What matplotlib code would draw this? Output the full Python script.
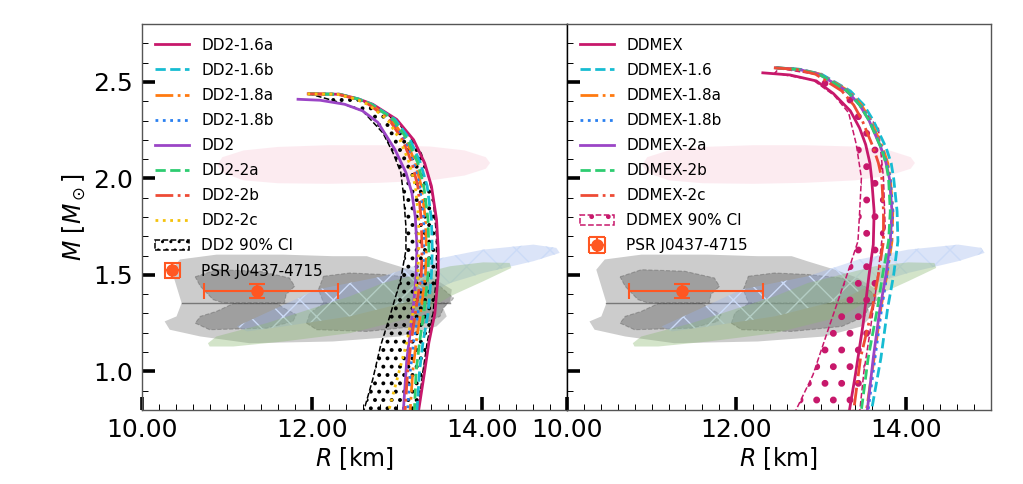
import matplotlib
matplotlib.use("Agg")
import matplotlib.pyplot as plt
from matplotlib.patches import Polygon
from matplotlib.ticker import MultipleLocator, FormatStrFormatter

# ---------------- data ----------------
# Left panel (DD2 family): M values and R values per curve
M_left = [2.438, 2.436, 2.412, 2.384, 2.306, 2.20, 2.08, 1.96, 1.787, 1.63, 1.50, 1.30, 1.15, 1.00, 0.80]
R_dd2_16a = [11.96, 12.33, 12.55, 12.72, 13.00, 13.20, 13.33, 13.41, 13.47, 13.49, 13.49, 13.45, 13.38, 13.33, 13.26]
R_dd2_16b = [11.97, 12.33, 12.55, 12.71, 12.98, 13.16, 13.28, 13.36, 13.41, 13.42, 13.41, 13.37, 13.31, 13.27, 13.24]
R_dd2_18a = [11.96, 12.32, 12.53, 12.69, 12.94, 13.11, 13.22, 13.29, 13.34, 13.35, 13.34, 13.28, 13.23, 13.19, 13.16]
R_dd2_18b = [11.96, 12.31, 12.52, 12.68, 12.93, 13.09, 13.20, 13.27, 13.32, 13.32, 13.31, 13.25, 13.20, 13.16, 13.13]
R_dd2_2a = [11.97, 12.32, 12.54, 12.70, 12.96, 13.13, 13.25, 13.32, 13.37, 13.38, 13.37, 13.32, 13.27, 13.23, 13.21]
R_dd2_2b = [11.95, 12.31, 12.52, 12.67, 12.91, 13.07, 13.18, 13.25, 13.29, 13.30, 13.29, 13.22, 13.17, 13.13, 13.10]
R_dd2_2c = [11.95, 12.30, 12.51, 12.66, 12.89, 13.04, 13.15, 13.22, 13.26, 13.26, 13.25, 13.19, 13.12, 13.03, 12.91]
M_dd2 = [2.41, 2.405, 2.384, 2.35, 2.29, 2.15, 2.03, 1.925, 1.80, 1.65, 1.50, 1.35, 1.20, 1.06, 0.80]
R_dd2 = [11.84, 12.10, 12.39, 12.60, 12.78, 12.98, 13.11, 13.18, 13.22, 13.24, 13.23, 13.20, 13.16, 13.12, 13.08]

# DD2 90% CI band
ci_left_M_lo = [2.44, 2.40, 2.35, 2.235, 2.13, 2.03, 1.92, 1.75, 1.63, 1.48, 1.30, 1.13, 0.96, 0.79]
ci_left_R_lo = [11.96, 12.28, 12.60, 12.84, 12.96, 13.05, 13.08, 13.11, 13.11, 13.05, 12.93, 12.81, 12.72, 12.61]
ci_left_M_hi = [0.79, 1.00, 1.15, 1.30, 1.50, 1.70, 1.90, 2.02, 2.13, 2.22, 2.30, 2.36, 2.41, 2.435, 2.44]
ci_left_R_hi = [13.25, 13.31, 13.36, 13.43, 13.47, 13.47, 13.43, 13.37, 13.29, 13.15, 12.99, 12.80, 12.56, 12.30, 11.96]

# Right panel (DDMEX family)
M_ddmex = [2.547, 2.536, 2.505, 2.44, 2.35, 2.26, 2.176, 2.08, 2.003, 1.83, 1.657, 1.50, 1.244, 0.984, 0.80]
R_ddmex = [12.31, 12.63, 12.94, 13.14, 13.34, 13.45, 13.52, 13.57, 13.59, 13.62, 13.61, 13.56, 13.49, 13.40, 13.33]
M_right = [2.573, 2.565, 2.54, 2.453, 2.38, 2.30, 2.16, 2.08, 2.00, 1.83, 1.675, 1.50, 1.33, 1.07, 0.80]
R_ddmex_16 = [12.48, 12.75, 13.00, 13.34, 13.50, 13.61, 13.76, 13.82, 13.85, 13.89, 13.90, 13.85, 13.78, 13.70, 13.59]
R_ddmex_18a = [12.47, 12.74, 12.99, 13.32, 13.47, 13.58, 13.72, 13.78, 13.81, 13.84, 13.83, 13.77, 13.70, 13.62, 13.53]
R_ddmex_18b = [12.47, 12.74, 12.98, 13.31, 13.46, 13.57, 13.71, 13.77, 13.81, 13.84, 13.82, 13.77, 13.71, 13.63, 13.55]
R_ddmex_2a = [12.46, 12.73, 12.97, 13.30, 13.45, 13.56, 13.70, 13.76, 13.80, 13.83, 13.81, 13.76, 13.69, 13.61, 13.54]
R_ddmex_2b = [12.46, 12.73, 12.97, 13.30, 13.45, 13.56, 13.70, 13.76, 13.79, 13.81, 13.79, 13.72, 13.66, 13.55, 13.47]
R_ddmex_2c = [12.44, 12.70, 12.93, 13.24, 13.38, 13.48, 13.61, 13.67, 13.71, 13.73, 13.73, 13.67, 13.60, 13.46, 13.38]

# DDMEX 90% CI band
ci_right_M_lo = [2.545, 2.51, 2.43, 2.34, 2.176, 2.003, 1.83, 1.675, 1.50, 1.244, 0.982, 0.79]
ci_right_R_lo = [12.45, 12.90, 13.15, 13.32, 13.41, 13.47, 13.45, 13.43, 13.30, 13.10, 12.90, 12.69]
ci_right_M_hi = [0.79, 1.00, 1.20, 1.45, 1.675, 1.744, 2.003, 2.26, 2.43, 2.535, 2.57]
ci_right_R_hi = [13.45, 13.50, 13.57, 13.65, 13.71, 13.75, 13.73, 13.67, 13.35, 13.00, 12.50]

# PSR J0437-4715
psr_R, psr_R_lo, psr_R_hi = 11.36, 0.63, 0.95
psr_M, psr_M_err = 1.418, 0.037

# Background constraint regions (R, M outlines)
gray_R = [10.47, 10.35, 10.45, 10.88, 11.67, 12.25, 12.65, 12.84, 13.16, 13.43, 13.65, 13.63, 13.55,
          13.59, 13.47, 13.04, 12.25, 11.27, 10.69, 10.33, 10.27, 10.41]
gray_M = [1.354, 1.527, 1.58, 1.605, 1.605, 1.597, 1.597, 1.57, 1.527, 1.484, 1.424, 1.363, 1.328,
          1.285, 1.233, 1.181, 1.155, 1.146, 1.181, 1.216, 1.259, 1.285]
dark_ul_R = [10.63, 10.88, 11.39, 11.74, 11.80, 11.70, 11.68, 10.95, 10.84, 10.69]
dark_ul_M = [1.49, 1.527, 1.519, 1.484, 1.441, 1.398, 1.356, 1.356, 1.372, 1.441]
dark_ur_R = [12.14, 12.45, 12.84, 13.23, 13.51, 13.67, 13.63, 12.14, 12.08]
dark_ur_M = [1.493, 1.51, 1.502, 1.484, 1.441, 1.38, 1.356, 1.356, 1.424]
dark_ll_R = [10.63, 10.80, 11.47, 11.78, 11.82, 11.67, 11.60, 11.08, 10.88, 10.69]
dark_ll_M = [1.25, 1.216, 1.224, 1.259, 1.294, 1.328, 1.352, 1.352, 1.311, 1.285]
dark_lr_R = [11.94, 12.06, 12.65, 13.24, 13.51, 13.55, 13.60, 12.14, 11.98]
dark_lr_M = [1.25, 1.216, 1.207, 1.233, 1.285, 1.328, 1.352, 1.352, 1.302]
line_R = [10.47, 13.63]
line_M = [1.354, 1.354]
green_R = [10.78, 10.88, 11.47, 12.45, 12.84, 13.24, 13.63, 14.02, 14.33, 14.35, 14.02, 13.63,
           13.24, 12.45, 11.67, 11.08, 10.80]
green_M = [1.146, 1.181, 1.25, 1.389, 1.458, 1.502, 1.545, 1.565, 1.562, 1.536, 1.467, 1.389,
           1.285, 1.198, 1.155, 1.129, 1.129]
blue_R = [11.12, 12.06, 12.84, 13.43, 14.02, 14.61, 14.88, 14.92, 14.61, 14.02, 13.63, 13.24,
          12.45, 11.67, 11.24]
blue_M = [1.233, 1.424, 1.493, 1.579, 1.631, 1.657, 1.64, 1.614, 1.571, 1.51, 1.458, 1.372,
          1.285, 1.233, 1.207]
pink_R = [10.89, 10.95, 11.2, 11.6, 12.2, 12.8, 13.4, 13.8, 14.05, 14.1, 14.05, 13.8, 13.4,
          12.8, 12.2, 11.6, 11.2, 10.95]
pink_M = [2.07, 2.11, 2.145, 2.163, 2.172, 2.172, 2.165, 2.145, 2.11, 2.08, 2.05, 2.015, 1.99,
          1.977, 1.972, 1.975, 1.99, 2.03]

# styles
C_MAG = '#c7186b'
C_CYAN = '#17bcd2'
C_ORANGE = '#ff7a10'
C_BLUE = '#2a80f0'
C_PURPLE = '#9b45c6'
C_GREEN = '#2ecc71'
C_RED = '#ee4b35'
C_YELLOW = '#f4c20d'
C_PSR = '#ff5722'

left_curves = [
    ('DD2-1.6a', M_left, R_dd2_16a, C_MAG, '-'),
    ('DD2-1.6b', M_left, R_dd2_16b, C_CYAN, '--'),
    ('DD2-1.8a', M_left, R_dd2_18a, C_ORANGE, '-.'),
    ('DD2-1.8b', M_left, R_dd2_18b, C_BLUE, ':'),
    ('DD2', M_dd2, R_dd2, C_PURPLE, '-'),
    ('DD2-2a', M_left, R_dd2_2a, C_GREEN, '--'),
    ('DD2-2b', M_left, R_dd2_2b, C_RED, '-.'),
    ('DD2-2c', M_left, R_dd2_2c, C_YELLOW, ':'),
]
right_curves = [
    ('DDMEX', M_ddmex, R_ddmex, C_MAG, '-'),
    ('DDMEX-1.6', M_right, R_ddmex_16, C_CYAN, '--'),
    ('DDMEX-1.8a', M_right, R_ddmex_18a, C_ORANGE, '-.'),
    ('DDMEX-1.8b', M_right, R_ddmex_18b, C_BLUE, ':'),
    ('DDMEX-2a', M_right, R_ddmex_2a, C_PURPLE, '-'),
    ('DDMEX-2b', M_right, R_ddmex_2b, C_GREEN, '--'),
    ('DDMEX-2c', M_right, R_ddmex_2c, C_RED, '-.'),
]

fig = plt.figure(figsize=(10.23, 4.84), dpi=100)
axL = fig.add_axes([0.1385, 0.1529, 0.4153, 0.7975])
axR = fig.add_axes([0.5538, 0.1529, 0.4153, 0.7975])


def poly(ax, R, M, **kw):
    p = Polygon(list(zip(R, M)), closed=True, **kw)
    ax.add_patch(p)
    return p


def background(ax):
    poly(ax, gray_R, gray_M, facecolor=(0, 0, 0, 0.2), edgecolor='none', zorder=1)
    for R, M in [(dark_ul_R, dark_ul_M), (dark_ur_R, dark_ur_M),
                 (dark_ll_R, dark_ll_M), (dark_lr_R, dark_lr_M)]:
        poly(ax, R, M, facecolor=(0, 0, 0, 0.22), edgecolor=(0.3, 0.3, 0.3, 0.35),
             linestyle='--', linewidth=0.8, zorder=1.1)
    ax.plot(line_R, line_M, color=(0.25, 0.25, 0.25, 0.6), lw=1, zorder=1.2)
    poly(ax, blue_R, blue_M, facecolor=(0.6, 0.7, 0.93, 0.35),
         edgecolor=(0.8, 0.86, 0.97, 1.0), linewidth=0, hatch='x', zorder=1.3)
    poly(ax, green_R, green_M, facecolor=(0.55, 0.72, 0.45, 0.38), edgecolor='none', zorder=1.4)
    poly(ax, pink_R, pink_M, facecolor=(0.97, 0.72, 0.80, 0.28), edgecolor='none', zorder=1.5)


def psr(ax):
    return ax.errorbar([psr_R], [psr_M], xerr=[[psr_R_lo], [psr_R_hi]], yerr=[[psr_M_err], [psr_M_err]],
                       fmt='o', color=C_PSR, ms=8, elinewidth=1.5, capsize=6, capthick=1.5,
                       zorder=6, label='PSR J0437-4715')


background(axL)
background(axR)

# Left panel
handlesL = []
for lab, M, R, c, ls in left_curves:
    ln, = axL.plot(R, M, color=c, ls=ls, lw=2, label=lab, zorder=4)
    handlesL.append(ln)
ciL = poly(axL, ci_left_R_lo + ci_left_R_hi, ci_left_M_lo + ci_left_M_hi,
           facecolor='none', edgecolor='k', linestyle='--', linewidth=1.1, hatch='..',
           zorder=3, label='DD2 90% CI')
try:
    ciL.set_hatch_linewidth(1.6)
except Exception:
    pass
handlesL.append(ciL)
handlesL.append(psr(axL))

# Right panel
handlesR = []
for lab, M, R, c, ls in right_curves:
    ln, = axR.plot(R, M, color=c, ls=ls, lw=2, label=lab, zorder=4)
    handlesR.append(ln)
ciR = poly(axR, ci_right_R_lo + ci_right_R_hi, ci_right_M_lo + ci_right_M_hi,
           facecolor='none', edgecolor=C_MAG, linestyle='--', linewidth=1.1, hatch='.',
           zorder=3, label='DDMEX 90% CI')
try:
    ciR.set_hatch_linewidth(2.5)
except Exception:
    pass
handlesR.append(ciR)
handlesR.append(psr(axR))

for ax, hs in [(axL, handlesL), (axR, handlesR)]:
    ax.set_xlim(10, 15)
    ax.set_ylim(0.8, 2.8)
    ax.xaxis.set_major_locator(MultipleLocator(2))
    ax.xaxis.set_minor_locator(MultipleLocator(0.2))
    ax.yaxis.set_major_locator(MultipleLocator(0.5))
    ax.yaxis.set_minor_locator(MultipleLocator(0.1))
    ax.xaxis.set_major_formatter(FormatStrFormatter('%.2f'))
    ax.yaxis.set_major_formatter(FormatStrFormatter('%.1f'))
    ax.tick_params(which='major', direction='in', length=9.5, width=2.6, labelsize=18,
                   top=False, right=False, pad=6)
    ax.tick_params(which='minor', direction='in', length=4.5, width=0.7, top=False, right=False)
    for s in ax.spines.values():
        s.set_color('#555555')
        s.set_linewidth(1.0)
    ax.set_xlabel(r'$R$ [km]', fontsize=17, labelpad=2)
    ax.legend(handles=hs, loc='upper left', frameon=False, fontsize=11,
              handlelength=2.2, labelspacing=0.66)

axL.spines['right'].set_color('k')
axR.spines['left'].set_color('k')
axL.set_ylabel(r'$M$ [$M_\odot$]', fontsize=17)
axR.tick_params(labelleft=False)

fig.savefig('out.png', dpi=100)
